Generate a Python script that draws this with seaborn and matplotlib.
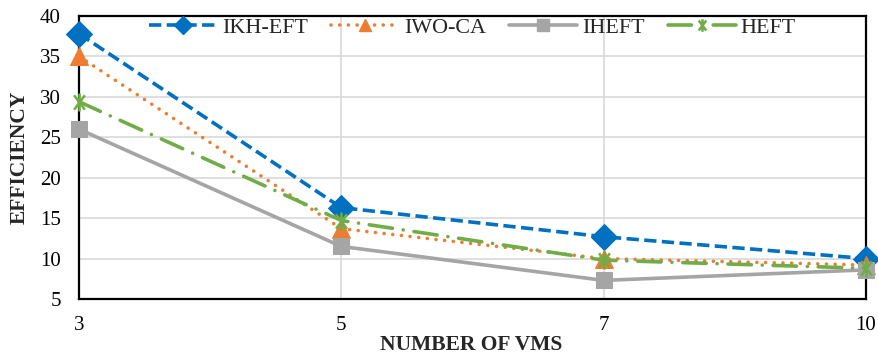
import matplotlib
matplotlib.use("Agg")
import matplotlib.pyplot as plt
import seaborn as sns
import pandas as pd
from matplotlib.lines import Line2D
from matplotlib.path import Path

# Data: efficiency per number of VMs
vms = ["3", "5", "7", "10"]
ikh_eft = [37.8, 16.3, 12.7, 10.0]
iwo_ca = [35.0, 13.7, 10.0, 9.2]
iheft = [26.0, 11.5, 7.3, 8.6]
heft = [29.4, 14.7, 9.8, 8.8]

series = {
    "IKH-EFT": ikh_eft,
    "IWO-CA": iwo_ca,
    "IHEFT": iheft,
    "HEFT": heft,
}

# star marker: a vertical bar crossed by a steep X
star = Path(
    [(0, -1), (0, 1), (-0.6, -0.8), (0.6, 0.8), (-0.6, 0.8), (0.6, -0.8)],
    [Path.MOVETO, Path.LINETO, Path.MOVETO, Path.LINETO, Path.MOVETO, Path.LINETO],
)

styles = {
    "IKH-EFT": dict(color="#0070C0", linestyle=(0, (3.4, 1.5)), marker="D",
                    dash_capstyle="butt"),
    "IWO-CA": dict(color="#ED7D31", linestyle=(0, (0.01, 2.4)), marker="^",
                   dash_capstyle="round"),
    "IHEFT": dict(color="#A5A5A5", linestyle="-", marker="s",
                  dash_capstyle="butt"),
    "HEFT": dict(color="#70AD47", linestyle=(0, (6.5, 3.0, 0.01, 3.0)),
                 marker=star, markeredgewidth=1.8,
                 dash_capstyle="round"),
}
marker_sizes = {"IKH-EFT": 13, "IWO-CA": 13, "IHEFT": 12, "HEFT": 13}
line_width = 2.6

sns.set_theme(style="white")
plt.rcParams["font.family"] = ["Liberation Serif", "DejaVu Serif"]

fig = plt.figure(figsize=(8.79, 3.54), dpi=100)
ax = fig.add_axes([0.0899, 0.1554, 0.8953, 0.7994])

for name, vals in series.items():
    df = pd.DataFrame({"vms": vms, "eff": vals})
    st = styles[name]
    sns.lineplot(data=df, x="vms", y="eff", ax=ax, linewidth=line_width,
                 markeredgecolor=st["color"], markersize=marker_sizes[name],
                 label=name, legend=False, sort=False, clip_on=False, **st)

ax.set_xlim(0, len(vms) - 1)
ax.set_ylim(5, 40)
ax.set_yticks(range(5, 41, 5))
ax.set_xticks(range(len(vms)))
ax.set_xticklabels(vms)

ax.grid(True, color="#D9D9D9", linewidth=1.2)
ax.set_axisbelow(True)
for sp in ax.spines.values():
    sp.set_color("black")
    sp.set_linewidth(1.6)
    sp.set_zorder(1.5)

ax.tick_params(axis="both", length=0, labelsize=15, colors="black")
ax.tick_params(axis="x", pad=12)
ax.tick_params(axis="y", pad=13)

ax.set_xlabel("NUMBER OF VMS", fontsize=15.5, fontweight="bold")
ax.set_ylabel("EFFICIENCY", fontsize=15.5, fontweight="bold")
ax.xaxis.set_label_coords(0.4985, -0.180)
ax.xaxis.label.set_verticalalignment("baseline")
ax.yaxis.set_label_coords(-0.0686, 0.5)
ax.yaxis.label.set_verticalalignment("baseline")

handles = []
for name in series:
    st = styles[name]
    handles.append(Line2D([], [], linewidth=line_width, markeredgecolor=st["color"],
                          markersize=marker_sizes[name] * 0.7, **st))
ax.legend(handles, list(series.keys()), loc="center",
          bbox_to_anchor=(0.5, 0.96), ncol=4, frameon=False, fontsize=15.8,
          handlelength=3.1, numpoints=1, columnspacing=1.05, handletextpad=0.23,
          borderaxespad=0.0)

fig.savefig("out.png", dpi=100)
